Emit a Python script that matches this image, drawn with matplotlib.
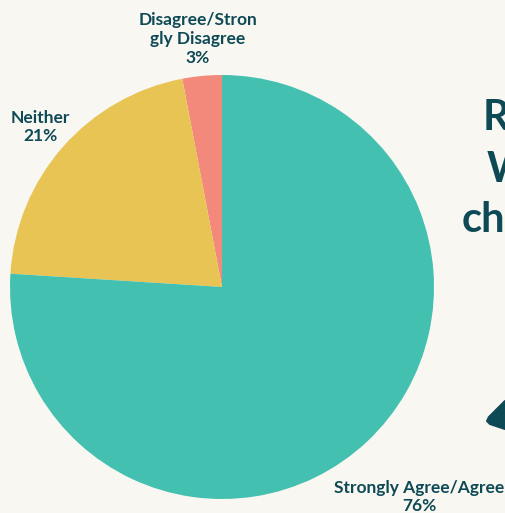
import matplotlib
matplotlib.use("Agg")
import matplotlib.pyplot as plt
from matplotlib.patches import Polygon

categories = ["Disagree/Strongly Disagree", "Neither", "Strongly Agree/Agree"]
values = [3, 21, 76]
colors = ["#F2897A", "#E8C454", "#44C0B1"]
label_texts = ["Disagree/Stron\ngly Disagree\n3%", "Neither\n21%", "Strongly Agree/Agree\n76%"]
side_texts = ["R", "W", "ch"]

BG = "#F9F7F2"
TXT = "#0E4A56"
W, H = 505, 513

plt.rcParams['font.family'] = ['Lato', 'DejaVu Sans']
fig = plt.figure(figsize=(W / 100, H / 100), dpi=100, facecolor=BG)

# pie axes: center (222, 287), radius 212 px
cx, cy, r = 222, 287, 212
ax = fig.add_axes([(cx - r) / W, 1 - (cy + r) / H, 2 * r / W, 2 * r / H])
ax.set_facecolor(BG)
ax.pie(values, colors=colors, startangle=90, counterclock=True,
       wedgeprops=dict(linewidth=0), radius=1)
ax.set_xlim(-1, 1)
ax.set_ylim(-1, 1)
ax.set_aspect('auto')
ax.axis('off')

def fx(x):
    return x / W

def fy(y):
    return 1 - y / H

label_pos = [(198, 39), (40, 127), (419, 497)]
for txt, (x, y) in zip(label_texts, label_pos):
    fig.text(fx(x), fy(y), txt, ha='center', va='center', color=TXT,
             fontsize=12.5, fontweight='bold', linespacing=1.2)

side_pos = [(483, 118), (487, 170), (462, 220)]
for txt, (x, y) in zip(side_texts, side_pos):
    fig.text(fx(x), fy(y), txt, ha='left', va='center', color=TXT,
             fontsize=30, fontweight='bold')

arrow = Polygon([(fx(505), fy(401)), (fx(489), fy(417)), (fx(487), fy(421)),
                 (fx(490), fy(424)), (fx(505), fy(429))],
                closed=True, transform=fig.transFigure, facecolor=TXT,
                edgecolor=TXT, linewidth=1.5, joinstyle='round')
fig.add_artist(arrow)

fig.savefig("out.png", dpi=100, facecolor=BG)
